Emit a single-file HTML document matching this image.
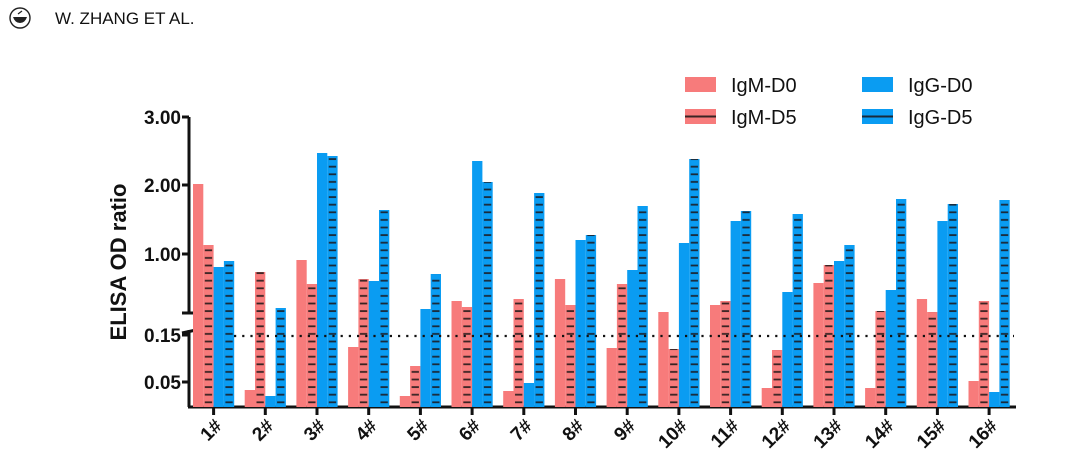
<!DOCTYPE html>
<html><head><meta charset="utf-8"><style>
body{margin:0;background:#fff;width:1080px;height:467px;overflow:hidden}
</style></head><body>
<svg width="1080" height="467" xmlns="http://www.w3.org/2000/svg" font-family="Liberation Sans, Arial, sans-serif">
<defs>
<pattern id="hp" patternUnits="userSpaceOnUse" width="10.3" height="7.6" y="406"><rect width="10.3" height="7.6" fill="#f77b7b"/><rect x="1.5" y="3" width="7.3" height="1.8" fill="#3a2424"/></pattern>
<pattern id="hb" patternUnits="userSpaceOnUse" width="10.3" height="7.6" y="406"><rect width="10.3" height="7.6" fill="#0a9cf2"/><rect x="1.5" y="3" width="7.3" height="1.8" fill="#1a2a3a"/></pattern>
</defs>
<!-- header -->
<circle cx="20" cy="18" r="10" fill="none" stroke="#222" stroke-width="1.4"/>
<path d="M13 17 H27 Q25 23 20 23 Q15 23 13 17 Z" fill="#222"/>
<path d="M18 14 L22 11" stroke="#222" stroke-width="1.2"/>
<text x="55" y="24" font-size="17" fill="#111">W. ZHANG ET AL.</text>
<!-- legend -->
<rect x="685" y="77" width="31" height="15" fill="#f77b7b"/>
<text x="731" y="92" font-size="20" fill="#111">IgM-D0</text>
<rect x="685" y="109" width="31" height="15" fill="#f77b7b"/><rect x="685" y="115.5" width="31" height="2" fill="#3a2424"/>
<text x="731" y="124" font-size="20" fill="#111">IgM-D5</text>
<rect x="862" y="77" width="31" height="15" fill="#0a9cf2"/>
<text x="908" y="92" font-size="20" fill="#111">IgG-D0</text>
<rect x="862" y="109" width="31" height="15" fill="#0a9cf2"/><rect x="862" y="115.5" width="31" height="2" fill="#1a2a3a"/>
<text x="908" y="124" font-size="20" fill="#111">IgG-D5</text>
<!-- y axis -->
<text transform="translate(126,262) rotate(-90)" text-anchor="middle" font-size="22" font-weight="bold" fill="#111">ELISA OD ratio</text>
<g font-size="19" font-weight="bold" fill="#111" text-anchor="end">
<text x="181" y="124">3.00</text><text x="181" y="192">2.00</text><text x="181" y="261">1.00</text><text x="181" y="342">0.15</text><text x="181" y="389">0.05</text>
</g>
<g stroke="#111" stroke-width="3" fill="none">
<path d="M189 117 V313 M182 117 H189 M182 185 H189 M182 254 H189 M182 313 H195"/>
<path d="M189 330 V407 M182 335 H189 M182 382 H189 M182 333 L196 330"/>
<path d="M188 407 H1016"/>
</g>
<!-- bars -->
<g id="bars">
<g transform="translate(193,0)"><rect x="0" y="184" width="10.3" height="223" fill="#f77b7b"/><rect x="10.3" y="245" width="10.3" height="162" fill="url(#hp)"/><rect x="20.6" y="267" width="10.3" height="140" fill="#0a9cf2"/><rect x="30.9" y="261" width="10.3" height="146" fill="url(#hb)"/></g>
<g transform="translate(244.7,0)"><rect x="0" y="390" width="10.3" height="17" fill="#f77b7b"/><rect x="10.3" y="272" width="10.3" height="135" fill="url(#hp)"/><rect x="20.6" y="396" width="10.3" height="11" fill="#0a9cf2"/><rect x="30.9" y="308" width="10.3" height="99" fill="url(#hb)"/></g>
<g transform="translate(296.4,0)"><rect x="0" y="260" width="10.3" height="147" fill="#f77b7b"/><rect x="10.3" y="284" width="10.3" height="123" fill="url(#hp)"/><rect x="20.6" y="153" width="10.3" height="254" fill="#0a9cf2"/><rect x="30.9" y="156" width="10.3" height="251" fill="url(#hb)"/></g>
<g transform="translate(348.1,0)"><rect x="0" y="347" width="10.3" height="60" fill="#f77b7b"/><rect x="10.3" y="279" width="10.3" height="128" fill="url(#hp)"/><rect x="20.6" y="281" width="10.3" height="126" fill="#0a9cf2"/><rect x="30.9" y="210" width="10.3" height="197" fill="url(#hb)"/></g>
<g transform="translate(399.8,0)"><rect x="0" y="396" width="10.3" height="11" fill="#f77b7b"/><rect x="10.3" y="366" width="10.3" height="41" fill="url(#hp)"/><rect x="20.6" y="309" width="10.3" height="98" fill="#0a9cf2"/><rect x="30.9" y="274" width="10.3" height="133" fill="url(#hb)"/></g>
<g transform="translate(451.5,0)"><rect x="0" y="301" width="10.3" height="106" fill="#f77b7b"/><rect x="10.3" y="307" width="10.3" height="100" fill="url(#hp)"/><rect x="20.6" y="161" width="10.3" height="246" fill="#0a9cf2"/><rect x="30.9" y="182" width="10.3" height="225" fill="url(#hb)"/></g>
<g transform="translate(503.2,0)"><rect x="0" y="391" width="10.3" height="16" fill="#f77b7b"/><rect x="10.3" y="299" width="10.3" height="108" fill="url(#hp)"/><rect x="20.6" y="383" width="10.3" height="24" fill="#0a9cf2"/><rect x="30.9" y="193" width="10.3" height="214" fill="url(#hb)"/></g>
<g transform="translate(554.9,0)"><rect x="0" y="279" width="10.3" height="128" fill="#f77b7b"/><rect x="10.3" y="305" width="10.3" height="102" fill="url(#hp)"/><rect x="20.6" y="240" width="10.3" height="167" fill="#0a9cf2"/><rect x="30.9" y="235" width="10.3" height="172" fill="url(#hb)"/></g>
<g transform="translate(606.6,0)"><rect x="0" y="348" width="10.3" height="59" fill="#f77b7b"/><rect x="10.3" y="284" width="10.3" height="123" fill="url(#hp)"/><rect x="20.6" y="270" width="10.3" height="137" fill="#0a9cf2"/><rect x="30.9" y="206" width="10.3" height="201" fill="url(#hb)"/></g>
<g transform="translate(658.3,0)"><rect x="0" y="312" width="10.3" height="95" fill="#f77b7b"/><rect x="10.3" y="349" width="10.3" height="58" fill="url(#hp)"/><rect x="20.6" y="243" width="10.3" height="164" fill="#0a9cf2"/><rect x="30.9" y="159" width="10.3" height="248" fill="url(#hb)"/></g>
<g transform="translate(710,0)"><rect x="0" y="305" width="10.3" height="102" fill="#f77b7b"/><rect x="10.3" y="301" width="10.3" height="106" fill="url(#hp)"/><rect x="20.6" y="221" width="10.3" height="186" fill="#0a9cf2"/><rect x="30.9" y="211" width="10.3" height="196" fill="url(#hb)"/></g>
<g transform="translate(761.7,0)"><rect x="0" y="388" width="10.3" height="19" fill="#f77b7b"/><rect x="10.3" y="350" width="10.3" height="57" fill="url(#hp)"/><rect x="20.6" y="292" width="10.3" height="115" fill="#0a9cf2"/><rect x="30.9" y="214" width="10.3" height="193" fill="url(#hb)"/></g>
<g transform="translate(813.4,0)"><rect x="0" y="283" width="10.3" height="124" fill="#f77b7b"/><rect x="10.3" y="265" width="10.3" height="142" fill="url(#hp)"/><rect x="20.6" y="261" width="10.3" height="146" fill="#0a9cf2"/><rect x="30.9" y="245" width="10.3" height="162" fill="url(#hb)"/></g>
<g transform="translate(865.1,0)"><rect x="0" y="388" width="10.3" height="19" fill="#f77b7b"/><rect x="10.3" y="311" width="10.3" height="96" fill="url(#hp)"/><rect x="20.6" y="290" width="10.3" height="117" fill="#0a9cf2"/><rect x="30.9" y="199" width="10.3" height="208" fill="url(#hb)"/></g>
<g transform="translate(916.8,0)"><rect x="0" y="299" width="10.3" height="108" fill="#f77b7b"/><rect x="10.3" y="312" width="10.3" height="95" fill="url(#hp)"/><rect x="20.6" y="221" width="10.3" height="186" fill="#0a9cf2"/><rect x="30.9" y="204" width="10.3" height="203" fill="url(#hb)"/></g>
<g transform="translate(968.5,0)"><rect x="0" y="381" width="10.3" height="26" fill="#f77b7b"/><rect x="10.3" y="301" width="10.3" height="106" fill="url(#hp)"/><rect x="20.6" y="392" width="10.3" height="15" fill="#0a9cf2"/><rect x="30.9" y="200" width="10.3" height="207" fill="url(#hb)"/></g>
</g>
<!-- dotted threshold -->
<line x1="234" y1="336" x2="1014" y2="336" stroke="#111" stroke-width="2.2" stroke-dasharray="2.2,6"/>
<!-- x ticks and labels -->
<g stroke="#111" stroke-width="3">
<path d="M213.6 407V415M265.3 407V415M317 407V415M368.7 407V415M420.4 407V415M472.1 407V415M523.8 407V415M575.5 407V415M627.2 407V415M678.9 407V415M730.6 407V415M782.3 407V415M834 407V415M885.7 407V415M937.4 407V415M989.1 407V415"/>
</g>
<g font-size="19" font-weight="bold" fill="#111" text-anchor="end">
<text transform="translate(223,427) rotate(-45)">1#</text>
<text transform="translate(274.7,427) rotate(-45)">2#</text>
<text transform="translate(326.4,427) rotate(-45)">3#</text>
<text transform="translate(378.1,427) rotate(-45)">4#</text>
<text transform="translate(429.8,427) rotate(-45)">5#</text>
<text transform="translate(481.5,427) rotate(-45)">6#</text>
<text transform="translate(533.2,427) rotate(-45)">7#</text>
<text transform="translate(584.9,427) rotate(-45)">8#</text>
<text transform="translate(636.6,427) rotate(-45)">9#</text>
<text transform="translate(688.3,427) rotate(-45)">10#</text>
<text transform="translate(740,427) rotate(-45)">11#</text>
<text transform="translate(791.7,427) rotate(-45)">12#</text>
<text transform="translate(843.4,427) rotate(-45)">13#</text>
<text transform="translate(895.1,427) rotate(-45)">14#</text>
<text transform="translate(946.8,427) rotate(-45)">15#</text>
<text transform="translate(998.5,427) rotate(-45)">16#</text>
</g>
</svg>
</body></html>
